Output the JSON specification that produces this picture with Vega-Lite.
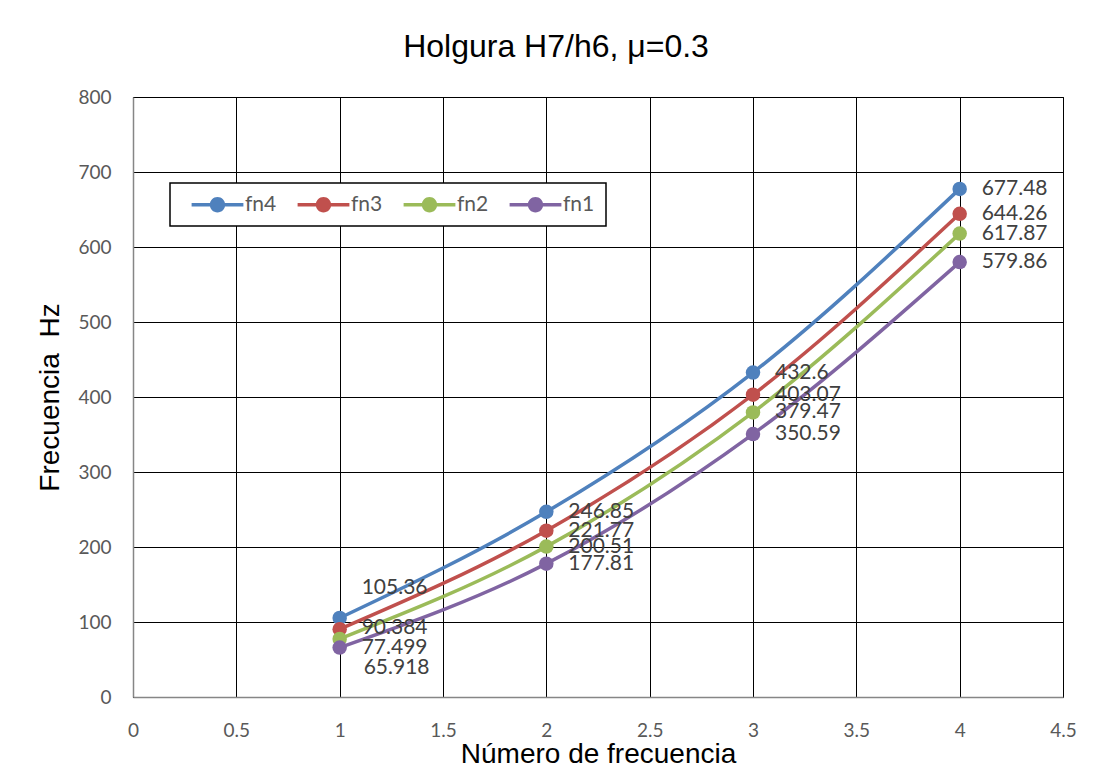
{
  "$schema": "https://vega.github.io/schema/vega-lite/v6.json",
  "autosize": {"type": "none"},
  "width": 930,
  "height": 600,
  "padding": {"left": 133, "top": 97, "right": 34, "bottom": 71},
  "background": "white",
  "title": {"text": "Holgura H7/h6, μ=0.3", "font": "Liberation Sans", "fontSize": 32, "fontWeight": "normal", "color": "#000000", "offset": 24, "dx": -42},
  "data": {"values": [
    {"n": 1, "serie": "fn4", "f": 105.36},
    {"n": 2, "serie": "fn4", "f": 246.85},
    {"n": 3, "serie": "fn4", "f": 432.6},
    {"n": 4, "serie": "fn4", "f": 677.48},
    {"n": 1, "serie": "fn3", "f": 90.384},
    {"n": 2, "serie": "fn3", "f": 221.77},
    {"n": 3, "serie": "fn3", "f": 403.07},
    {"n": 4, "serie": "fn3", "f": 644.26},
    {"n": 1, "serie": "fn2", "f": 77.499},
    {"n": 2, "serie": "fn2", "f": 200.51},
    {"n": 3, "serie": "fn2", "f": 379.47},
    {"n": 4, "serie": "fn2", "f": 617.87},
    {"n": 1, "serie": "fn1", "f": 65.918},
    {"n": 2, "serie": "fn1", "f": 177.81},
    {"n": 3, "serie": "fn1", "f": 350.59},
    {"n": 4, "serie": "fn1", "f": 579.86}
  ]},
  "encoding": {
    "x": {"field": "n", "type": "quantitative", "scale": {"domain": [0, 4.5], "nice": false, "zero": false},
      "axis": {"title": "Número de frecuencia", "values": [0, 0.5, 1, 1.5, 2, 2.5, 3, 3.5, 4, 4.5], "format": "~g", "labelFlush": false, "labelOverlap": false, "labelPadding": 24, "titlePadding": 0}},
    "y": {"field": "f", "type": "quantitative", "scale": {"domain": [0, 800], "nice": false},
      "axis": {"title": "Frecuencia \u00a0Hz", "values": [0, 100, 200, 300, 400, 500, 600, 700, 800], "format": "d", "labelPadding": 22, "titlePadding": 13}},
    "color": {"field": "serie", "type": "nominal",
      "scale": {"domain": ["fn4", "fn3", "fn2", "fn1"], "range": ["#4F81BD", "#C0504D", "#9BBB59", "#8064A2"]},
      "legend": {"orient": "none", "legendX": 37, "legendY": 86, "direction": "horizontal", "title": null,
        "strokeColor": "#000000", "fillColor": "white", "padding": 11,
        "symbolType": "M-3.7,-0.25L3.7,-0.25L3.7,0.25L-3.7,0.25Z M-1.1,0A1.1,1.1 0 1,1 1.1,0A1.1,1.1 0 1,1 -1.1,0Z",
        "symbolSize": 196, "symbolStrokeWidth": 0, "symbolOffset": 26, "labelOffset": 17, "columnPadding": 10,
        "labelFont": "Lato", "labelFontSize": 21, "labelColor": "#595959",
        "encode": {"legend": {"update": {"strokeWidth": {"value": 1.5}}},
          "symbols": {"update": {"fill": {"scale": "color", "field": "value"}, "fillOpacity": {"value": 1}, "strokeWidth": {"value": 0}}}}}}
  },
  "layer": [
    {"mark": {"type": "line", "interpolate": "monotone", "strokeWidth": 3.5}},
    {"mark": {"type": "point", "filled": true, "size": 210, "opacity": 1}},
    {"transform": [{"filter": "datum.n > 1"}],
      "mark": {"type": "text", "align": "left", "baseline": "middle", "dx": 22, "font": "Lato", "fontSize": 21, "color": "#404040"},
      "encoding": {"text": {"field": "f", "type": "nominal"}, "color": {"value": "#404040"}}},
    {"transform": [{"filter": "datum.n == 1 && datum.serie == 'fn4'"}],
      "mark": {"type": "text", "align": "left", "baseline": "middle", "dx": 22, "dy": -30, "font": "Lato", "fontSize": 21, "color": "#404040"},
      "encoding": {"text": {"field": "f", "type": "nominal"}, "color": {"value": "#404040"}}},
    {"transform": [{"filter": "datum.n == 1 && datum.serie == 'fn3'"}],
      "mark": {"type": "text", "align": "left", "baseline": "middle", "dx": 22, "dy": -1, "font": "Lato", "fontSize": 21, "color": "#404040"},
      "encoding": {"text": {"field": "f", "type": "nominal"}, "color": {"value": "#404040"}}},
    {"transform": [{"filter": "datum.n == 1 && datum.serie == 'fn2'"}],
      "mark": {"type": "text", "align": "left", "baseline": "middle", "dx": 22, "dy": 9, "font": "Lato", "fontSize": 21, "color": "#404040"},
      "encoding": {"text": {"field": "f", "type": "nominal"}, "color": {"value": "#404040"}}},
    {"transform": [{"filter": "datum.n == 1 && datum.serie == 'fn1'"}],
      "mark": {"type": "text", "align": "left", "baseline": "middle", "dx": 24, "dy": 20, "font": "Lato", "fontSize": 21, "color": "#404040"},
      "encoding": {"text": {"field": "f", "type": "nominal"}, "color": {"value": "#404040"}}}
  ],
  "config": {
    "view": {"stroke": "#000000", "strokeWidth": 1},
    "axis": {
      "grid": true, "gridColor": "#000000", "gridWidth": 1, "gridOpacity": 1,
      "domain": true, "domainColor": "#868686", "domainWidth": 1.5,
      "ticks": false,
      "labelFont": "Lato", "labelFontSize": 19, "labelColor": "#595959",
      "titleFont": "Liberation Sans", "titleFontSize": 28, "titleFontWeight": "normal", "titleColor": "#000000"
    }
  }
}
